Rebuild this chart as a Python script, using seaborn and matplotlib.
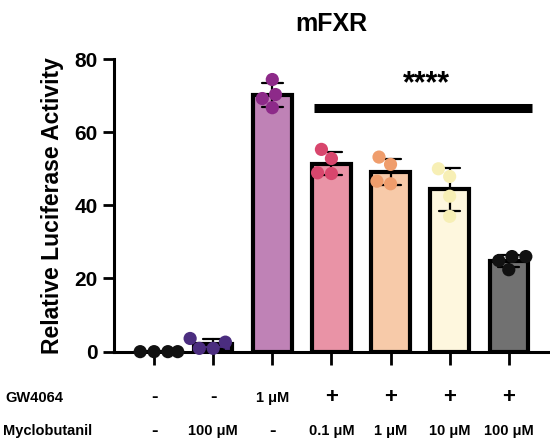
import pandas as pd
import matplotlib
matplotlib.use("Agg")
import matplotlib.pyplot as plt
import matplotlib.transforms as mtransforms
import numpy as np
import seaborn as sns

# replicate values (4 wells per condition)
groups = ["veh", "myc100", "gw", "gw+myc0.1", "gw+myc1", "gw+myc10", "gw+myc100"]
reps = [
    [0.0, 0.0, 0.0, 0.0],
    [0.9, 3.6, 2.6, 0.9],
    [70.3, 74.4, 66.7, 69.2],
    [52.8, 55.3, 48.7, 48.9],
    [51.2, 53.2, 45.9, 46.6],
    [47.9, 50.0, 42.5, 37.0],
    [26.0, 26.0, 24.9, 22.4],
]
gw_labels = ["-", "-", "1 \u03bcM", "+", "+", "+", "+"]
myc_labels = ["-", "100 \u03bcM", "-", "0.1 \u03bcM", "1 \u03bcM", "10 \u03bcM", "100 \u03bcM"]

bar_colors = ["#ffffff", "#4b2d7f", "#bf82b6", "#e993a6", "#f7caa9", "#fef7de", "#717171"]
dot_colors = ["#111111", "#4b2d7f", "#8d2a89", "#d8466d", "#ef9d6c", "#f7efb5", "#111111"]

df = pd.DataFrame({
    "group": np.repeat(groups, [len(r) for r in reps]),
    "value": np.concatenate(reps),
})

sns.set_style("ticks")
plt.rcParams["font.family"] = ["Liberation Sans", "DejaVu Sans"]
plt.rcParams["font.weight"] = "bold"
for k in ["text.color", "axes.labelcolor", "xtick.color", "ytick.color", "axes.edgecolor"]:
    plt.rcParams[k] = "black"

fig = plt.figure(figsize=(5.5, 4.44), dpi=100)
ax = fig.add_axes([0.207, 0.208, 0.789, 0.659])

sns.barplot(data=df, x="group", y="value", hue="group", order=groups,
            palette=dict(zip(groups, bar_colors)), legend=False, saturation=1,
            errorbar="sd", capsize=0.35, err_kws={"color": "black", "linewidth": 1.6},
            width=0.65, edgecolor="black", linewidth=3, ax=ax)
sns.swarmplot(data=df, x="group", y="value", hue="group", order=groups,
              palette=dict(zip(groups, dot_colors)), legend=False,
              size=9.5, ax=ax, clip_on=False, zorder=5)

ax.set_xlim(-0.68, 6.66)
ax.set_ylim(0, 80)
ax.set_yticks([0, 20, 40, 60, 80])
ax.set_xticks(range(len(groups)))
ax.set_xticklabels([])
ax.set_xlabel("")
ax.set_ylabel("Relative Luciferase Activity", fontsize=16.5, fontweight="bold", labelpad=8)
ax.tick_params(axis="y", labelsize=15, width=2, length=8)
ax.tick_params(axis="x", width=2, length=9)
for lab in ax.get_yticklabels():
    lab.set_fontweight("bold")
for s in ["left", "bottom"]:
    ax.spines[s].set_linewidth(2.2)
sns.despine(ax=ax)
ax.set_title("mFXR", fontsize=18, fontweight="bold", pad=20)

# significance bar
sig_x0, sig_x1, sig_y = 2.70, 6.40, 66.5
ax.plot([sig_x0, sig_x1], [sig_y, sig_y], color="black", linewidth=6.5, solid_capstyle="butt")
ax.text(4.61, 69.0, "****", ha="center", va="bottom", fontsize=22, fontweight="bold")

# treatment table under the axis
trans = mtransforms.blended_transform_factory(ax.transData, fig.transFigure)
fig.text(0.009, 0.104, "GW4064", ha="left", va="center", fontsize=10.5, fontweight="bold")
fig.text(0.006, 0.029, "Myclobutanil", ha="left", va="center", fontsize=10.5, fontweight="bold")
for i, (g, m) in enumerate(zip(gw_labels, myc_labels)):
    fs = 16 if g == "+" else (14 if g == "-" else 10.5)
    ax.text(i, 0.104, g, transform=trans, ha="center", va="center",
            fontsize=fs, fontweight="bold", clip_on=False)
    fs = 14 if m == "-" else 10.5
    ax.text(i, 0.029, m, transform=trans, ha="center", va="center",
            fontsize=fs, fontweight="bold", clip_on=False)

fig.savefig("out.png", dpi=100)
